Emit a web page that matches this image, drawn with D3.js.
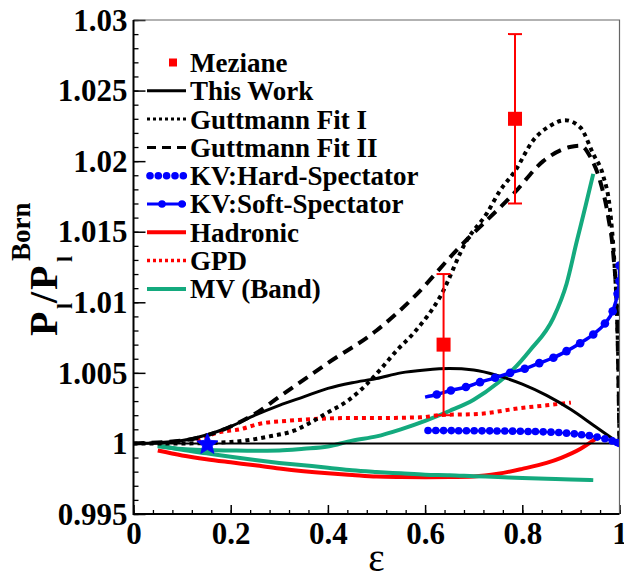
<!DOCTYPE html>
<html>
<head>
<meta charset="utf-8">
<script src="https://cdn.jsdelivr.net/npm/d3@7"></script>
<style>
  body { margin: 0; background: #fff; }
  svg { display: block; }
  text { font-family: "Liberation Serif", "Times New Roman", serif; font-weight: bold; fill: #000; }
</style>
</head>
<body>
<svg id="chart" width="624" height="577"></svg>
<script>
// ---- data ----
const thisWorkEps = [0, 0.05, 0.1, 0.15, 0.2, 0.25, 0.3, 0.35, 0.4, 0.45, 0.5, 0.55, 0.6, 0.65, 0.7, 0.75, 0.8, 0.85, 0.9, 0.95, 1.0];
const thisWorkVal = [1.0, 1.00005, 1.0002, 1.0006, 1.0012, 1.002, 1.0027, 1.0033, 1.0039, 1.0043, 1.0046, 1.005, 1.0052, 1.0053, 1.0052, 1.0048, 1.0042, 1.0034, 1.0024, 1.0012, 1.0];

const fit1Eps = [0, 0.1, 0.2, 0.28, 0.33, 0.36, 0.4, 0.44, 0.48, 0.507, 0.542, 0.576, 0.631, 0.686, 0.727, 0.754, 0.785, 0.823, 0.857, 0.888, 0.919, 0.946, 0.967, 0.98, 0.99, 0.995, 0.998, 1.0];
const fit1Val = [1.0, 1.0, 1.0001, 1.0005, 1.0009, 1.0014, 1.0022, 1.003, 1.0042, 1.0052, 1.0066, 1.0078, 1.0104, 1.0144, 1.0163, 1.0179, 1.0193, 1.0215, 1.0225, 1.0229, 1.0224, 1.0205, 1.0189, 1.0167, 1.0125, 1.009, 1.005, 1.0];

const fit2Eps = [0, 0.1, 0.2, 0.25, 0.3, 0.4, 0.5, 0.575, 0.665, 0.785, 0.843, 0.898, 0.92, 0.94, 0.96, 0.977, 0.987, 0.995, 1.0];
const fit2Val = [1.0, 1.0002, 1.0012, 1.0021, 1.0033, 1.0057, 1.008, 1.0103, 1.0137, 1.0178, 1.02, 1.021, 1.0211, 1.0203, 1.0186, 1.016, 1.0135, 1.009, 1.0];

const hardEps = [0.606, 0.622, 0.638, 0.654, 0.669, 0.685, 0.701, 0.717, 0.733, 0.748, 0.764, 0.78, 0.796, 0.812, 0.827, 0.843, 0.859, 0.875, 0.891, 0.907, 0.922, 0.938, 0.954, 0.97, 0.985, 0.995, 1.0];
const hardVal = [1.00092, 1.00092, 1.00091, 1.00091, 1.0009, 1.0009, 1.0009, 1.00089, 1.00089, 1.00088, 1.00088, 1.00087, 1.00086, 1.00085, 1.00084, 1.00082, 1.0008, 1.00077, 1.00073, 1.00068, 1.00062, 1.00055, 1.00045, 1.00033, 1.00018, 1.00007, 1.0];

const softEps = [0.6, 0.624, 0.653, 0.684, 0.713, 0.744, 0.775, 0.805, 0.835, 0.864, 0.891, 0.919, 0.946, 0.97, 0.986, 0.996, 1.0, 1.0];
const softVal = [1.00328, 1.00347, 1.00375, 1.004, 1.00434, 1.00465, 1.005, 1.00529, 1.00569, 1.00607, 1.00654, 1.0071, 1.00772, 1.0085, 1.00937, 1.0106, 1.0115, 1.0126];
const softMarked = [false, true, true, true, true, true, true, true, true, true, true, true, true, true, true, true, true, true];

const hadEps = [0.05, 0.1, 0.15, 0.2, 0.25, 0.3, 0.35, 0.4, 0.45, 0.5, 0.55, 0.6, 0.65, 0.7, 0.75, 0.8, 0.85, 0.88, 0.92, 0.95];
const hadVal = [0.9995, 0.99915, 0.99888, 0.99866, 0.99845, 0.99822, 0.99803, 0.99788, 0.99776, 0.99765, 0.99762, 0.99761, 0.99762, 0.99766, 0.99785, 0.9982, 0.99862, 0.99898, 0.99962, 1.0003];

const gpdEps = [0.13, 0.178, 0.219, 0.26, 0.315, 0.384, 0.453, 0.5, 0.59, 0.63, 0.713, 0.795, 0.85, 0.9];
const gpdVal = [1.0002, 1.0008, 1.001, 1.0014, 1.0016, 1.00175, 1.0018, 1.0018, 1.00185, 1.002, 1.0021, 1.0025, 1.0027, 1.0029];

const mvUpEps = [0.05, 0.1, 0.15, 0.2, 0.25, 0.3, 0.35, 0.4, 0.45, 0.5, 0.55, 0.6, 0.65, 0.7, 0.75, 0.78, 0.816, 0.864, 0.891, 0.912, 0.93, 0.946];
const mvUpVal = [0.9998, 0.9996, 0.99953, 0.9995, 0.99948, 0.9995, 0.99962, 0.99978, 1.0002, 1.0005, 1.001, 1.0016, 1.0023, 1.0031, 1.0043, 1.0052, 1.0066, 1.0089, 1.0113, 1.0143, 1.0168, 1.0191];

const mvLoEps = [0.05, 0.1, 0.15, 0.2, 0.25, 0.3, 0.35, 0.4, 0.45, 0.5, 0.55, 0.6, 0.65, 0.7, 0.75, 0.8, 0.85, 0.9, 0.946];
const mvLoVal = [0.99985, 0.99955, 0.9993, 0.99905, 0.99882, 0.99862, 0.99845, 0.99828, 0.9981, 0.99798, 0.99788, 0.99778, 0.99775, 0.99768, 0.99762, 0.99755, 0.9975, 0.99745, 0.9974];

const mezianeEps = [0.638, 0.785];
const mezianeVal = [1.007, 1.023];
const mezianeErr = [0.005, 0.006];

const starEps = [0.152];
const starVal = [1.0];

const xTickValues = [0, 0.2, 0.4, 0.6, 0.8, 1];
const xTickLabels = ["0", "0.2", "0.4", "0.6", "0.8", "1"];
const yTickValues = [0.995, 1, 1.005, 1.01, 1.015, 1.02, 1.025, 1.03];
const yTickLabels = ["0.995", "1", "1.005", "1.01", "1.015", "1.02", "1.025", "1.03"];

const legendNames = ["Meziane", "This Work", "Guttmann Fit I", "Guttmann Fit II", "KV:Hard-Spectator", "KV:Soft-Spectator", "Hadronic", "GPD", "MV (Band)"];

// ---- layout ----
const red = "#ff0000", blue = "#0000ff", green = "#14aa7e";
const svg = d3.select("#chart");
const x = d3.scaleLinear().domain([0, 1]).range([133.5, 619.5]);
const y = d3.scaleLinear().domain([0.995, 1.03]).range([514, 20]);

const zip = (a, b) => a.map((d, i) => [d, b[i]]);
const line = d3.line().x(d => x(d[0])).y(d => y(d[1])).curve(d3.curveMonotoneX);

svg.append("defs").append("clipPath").attr("id", "clip")
  .append("rect").attr("x", x(0)).attr("y", y(1.03)).attr("width", x(1) - x(0)).attr("height", y(0.995) - y(1.03));

const plot = svg.append("g").attr("clip-path", "url(#clip)");

function curve(points, color, width, dash) {
  plot.append("path")
    .attr("d", line(points))
    .attr("fill", "none")
    .attr("stroke", color)
    .attr("stroke-width", width)
    .attr("stroke-dasharray", dash || null)
    .attr("stroke-linejoin", "round");
}

curve(zip(hadEps, hadVal), red, 4);
curve(zip(mvLoEps, mvLoVal), green, 4);
curve(zip(mvUpEps, mvUpVal), green, 4);
curve(zip(gpdEps, gpdVal), red, 4, "4,4");

// reference line at 1
plot.append("line")
  .attr("x1", x(0)).attr("x2", x(1)).attr("y1", y(1)).attr("y2", y(1))
  .attr("stroke", "#000").attr("stroke-width", 2);

curve(zip(thisWorkEps, thisWorkVal), "#000", 3);
curve(zip(fit1Eps, fit1Val), "#000", 4, "4,4");
curve(zip(fit2Eps, fit2Val), "#000", 4, "11,7");

// KV hard spectator
curve(zip(hardEps, hardVal), blue, 2);
plot.selectAll(".hard").data(zip(hardEps, hardVal)).join("circle")
  .attr("cx", d => x(d[0])).attr("cy", d => y(d[1])).attr("r", 3.8).attr("fill", blue);

// KV soft spectator
curve(zip(softEps, softVal), blue, 3.5);
plot.selectAll(".soft").data(zip(softEps, softVal).filter((d, i) => softMarked[i])).join("circle")
  .attr("cx", d => x(d[0])).attr("cy", d => y(d[1])).attr("r", 4.3).attr("fill", blue);

// Meziane data
const mez = mezianeEps.map((e, i) => ({ e, v: mezianeVal[i], err: mezianeErr[i] }));
mez.forEach(d => {
  const g = svg.append("g").attr("stroke", red).attr("stroke-width", 2);
  g.append("line").attr("x1", x(d.e)).attr("x2", x(d.e)).attr("y1", y(d.v - d.err)).attr("y2", y(d.v + d.err));
  g.append("line").attr("x1", x(d.e) - 7).attr("x2", x(d.e) + 7).attr("y1", y(d.v + d.err)).attr("y2", y(d.v + d.err));
  g.append("line").attr("x1", x(d.e) - 7).attr("x2", x(d.e) + 7).attr("y1", y(d.v - d.err)).attr("y2", y(d.v - d.err));
  svg.append("rect").attr("x", x(d.e) - 7).attr("y", y(d.v) - 7).attr("width", 14).attr("height", 14).attr("fill", red);
});

// star marker (fat five-point star like ROOT's marker 29)
const fatStar = {
  draw(ctx, size) {
    const R = Math.sqrt(size), r = R * 0.45;
    for (let i = 0; i < 10; i++) {
      const a = -Math.PI / 2 + i * Math.PI / 5, rr = i % 2 ? r : R;
      if (i === 0) ctx.moveTo(rr * Math.cos(a), rr * Math.sin(a));
      else ctx.lineTo(rr * Math.cos(a), rr * Math.sin(a));
    }
    ctx.closePath();
  }
};
svg.selectAll(".star").data(zip(starEps, starVal)).join("path")
  .attr("d", d3.symbol(fatStar).size(125))
  .attr("transform", d => `translate(${x(d[0])},${y(d[1]) + 1})`)
  .attr("fill", blue).attr("stroke", blue).attr("stroke-width", 0.8);

// ---- axes ----
const yMinor = d3.range(0, 36).map(i => 0.995 + i * 0.001);
const xMinor = d3.range(0, 26).map(i => i * 0.04);

svg.append("g").attr("transform", `translate(${x(0)},0)`)
  .call(d3.axisLeft(y).tickValues(yMinor).tickSize(-5).tickSizeOuter(0).tickFormat(""))
  .call(g => g.select(".domain").remove())
  .call(g => g.selectAll("line").attr("stroke-width", 1.3));

svg.append("g").attr("transform", `translate(${x(0)},0)`)
  .call(d3.axisLeft(y).tickValues(yTickValues).tickSize(-12).tickSizeOuter(0).tickPadding(6)
    .tickFormat((d, i) => yTickLabels[i]))
  .call(g => g.select(".domain").remove())
  .call(g => g.selectAll("line").attr("stroke-width", 1.5))
  .call(g => g.selectAll("text").attr("font-size", 31).attr("font-family", null).attr("dy", "0.33em"));

svg.append("g").attr("transform", `translate(0,${y(0.995)})`)
  .call(d3.axisBottom(x).tickValues(xMinor).tickSize(-4).tickSizeOuter(0).tickFormat(""))
  .call(g => g.select(".domain").remove())
  .call(g => g.selectAll("line").attr("stroke-width", 1.3));

svg.append("g").attr("transform", `translate(0,${y(0.995)})`)
  .call(d3.axisBottom(x).tickValues(xTickValues).tickSize(-9).tickSizeOuter(0).tickPadding(8)
    .tickFormat((d, i) => xTickLabels[i]))
  .call(g => g.select(".domain").remove())
  .call(g => g.selectAll("line").attr("stroke-width", 1.5))
  .call(g => g.selectAll("text").attr("font-size", 31).attr("font-family", null).attr("dy", "0.7em"));

// frame
svg.append("path")
  .attr("d", `M${x(0)},${y(1.03)}H${x(1)}V${y(0.995)}`)
  .attr("fill", "none").attr("stroke", "#666").attr("stroke-width", 1.2);
svg.append("path")
  .attr("d", `M${x(0)},${y(1.03)}V${y(0.995)}H${x(1)}`)
  .attr("fill", "none").attr("stroke", "#000").attr("stroke-width", 2);

// axis titles
svg.append("text").attr("x", x(0.5)).attr("y", 571).attr("text-anchor", "middle")
  .attr("font-size", 39).style("font-weight", "normal").text("ε");

function rot(txt, bx, by, size) {
  svg.append("text").attr("transform", `translate(${bx},${by}) rotate(-90)`)
    .attr("font-size", size).text(txt);
}
rot("P", 57, 336, 40);
rot("l", 72, 309, 22);
rot("/", 57, 303, 40);
rot("P", 57, 290, 40);
rot("l", 72, 262, 22);
rot("Born", 30, 261, 27);

// ---- legend ----
const legY = i => 62.5 + i * 28.3;
const lx0 = 147, lx1 = 186;
const leg = svg.append("g");
leg.selectAll("text").data(legendNames).join("text")
  .attr("x", 190).attr("y", (d, i) => legY(i)).attr("dy", "0.35em")
  .attr("font-size", 27).text(d => d);

function legLine(i, color, width, dash) {
  leg.append("line").attr("x1", lx0).attr("x2", lx1).attr("y1", legY(i)).attr("y2", legY(i))
    .attr("stroke", color).attr("stroke-width", width).attr("stroke-dasharray", dash || null);
}
leg.append("rect").attr("x", 169).attr("y", legY(0) - 4).attr("width", 8).attr("height", 8).attr("fill", red);
legLine(1, "#000", 3);
legLine(2, "#000", 3, "3,3");
legLine(3, "#000", 3, "9,6");
[150, 158.3, 166.6, 175, 183.3].forEach(cx => leg.append("circle").attr("cx", cx).attr("cy", legY(4)).attr("r", 3.8).attr("fill", blue));
legLine(5, blue, 3);
[162, 182].forEach(cx => leg.append("circle").attr("cx", cx).attr("cy", legY(5)).attr("r", 3.8).attr("fill", blue));
legLine(6, red, 4);
legLine(7, red, 3.5, "3,3");
legLine(8, green, 4);
</script>
</body>
</html>
